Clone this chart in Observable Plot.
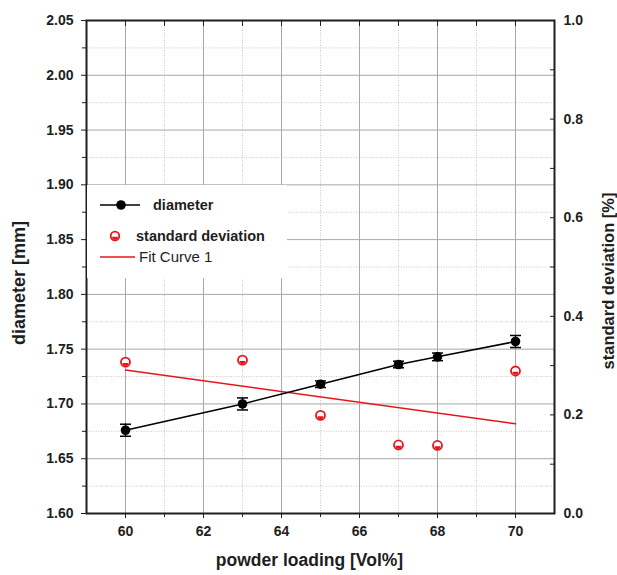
<!DOCTYPE html>
<html>
<head>
<meta charset="utf-8">
<script src="https://cdn.jsdelivr.net/npm/d3@7"></script>
<script src="https://cdn.jsdelivr.net/npm/@observablehq/plot@0.6"></script>
<style>
  html, body { margin: 0; padding: 0; background: #fff; }
  #wrap { position: relative; width: 617px; height: 575px; font-family: "Liberation Sans", Arial, sans-serif; }
  #legend { position: absolute; left: 87px; top: 185px; width: 200px; height: 93px; background: #fff; }
</style>
</head>
<body>
<div id="wrap">
  <div id="chart"></div>
  <div id="legend"></div>
</div>
<script>
// ---- data ----
const loading = [60, 63, 65, 67, 68, 70];
const diameter = [1.676, 1.700, 1.718, 1.736, 1.743, 1.757];
const diameterErr = [0.0055, 0.0055, 0.003, 0.003, 0.0035, 0.0055];
const stdDev = [0.307, 0.311, 0.199, 0.139, 0.138, 0.289];
const fitX = [60, 70];
const fitY = [0.291, 0.182];

// ---- ticks ----
const xMajor = [60, 62, 64, 66, 68, 70];
const xMinor = [59, 61, 63, 65, 67, 69, 71];
const yMajor = [1.60, 1.65, 1.70, 1.75, 1.80, 1.85, 1.90, 1.95, 2.00, 2.05];
const yMinor = [1.625, 1.675, 1.725, 1.775, 1.825, 1.875, 1.925, 1.975, 2.025];
const sdMajor = [0.0, 0.2, 0.4, 0.6, 0.8, 1.0];
const sdMinor = [0.1, 0.3, 0.5, 0.7, 0.9];

// right axis (std dev, 0..1) mapped onto the left scale (1.60..2.05)
const yMin = 1.60, yMax = 2.05;
const sdToY = s => yMin + s * (yMax - yMin);
const yToSd = y => (y - yMin) / (yMax - yMin);

const rows = loading.map((x, i) => ({x, d: diameter[i], e: diameterErr[i], sd: stdDev[i]}));
const fit = fitX.map((x, i) => ({x, sd: fitY[i]}));

const capSymbol = { draw(ctx, size) { const r = Math.sqrt(size / Math.PI); ctx.moveTo(-r, 0); ctx.lineTo(r, 0); } };
const halfSymbol = { draw(ctx, size) { const r = Math.sqrt(size / Math.PI); ctx.moveTo(r, 0); ctx.arc(0, 0, r, 0, Math.PI); ctx.closePath(); } };

const RED = "#e8141b";
const INK = "#1e1e1e";

const chart = Plot.plot({
  width: 617,
  height: 575,
  marginLeft: 86,
  marginRight: 63,
  marginTop: 20,
  marginBottom: 62,
  style: { fontFamily: "'Liberation Sans', Arial, sans-serif", fontSize: "14px", fontWeight: "bold", color: INK, background: "#fff" },
  x: { domain: [59, 71] },
  y: { domain: [yMin, yMax] },
  marks: [
    // grid
    Plot.ruleY(yMinor, { stroke: "#c8c8c8", strokeDasharray: "1,1.5" }),
    Plot.ruleX(xMinor, { stroke: "#c8c8c8", strokeDasharray: "1,1.5" }),
    Plot.ruleY(yMajor, { stroke: "#a8a8a8" }),
    Plot.ruleX(xMajor, { stroke: "#a8a8a8" }),
    // axes
    Plot.axisY(yMajor, { anchor: "left", tickSize: 5, tickPadding: 8, tickFormat: d => d.toFixed(2), label: null, stroke: INK, fill: INK }),
    Plot.axisY(yMinor, { anchor: "left", tickSize: 4, tickFormat: () => "", label: null, stroke: INK }),
    Plot.axisX(xMajor, { anchor: "bottom", tickSize: 5, tickPadding: 8, tickFormat: d => String(d), label: null, stroke: INK, fill: INK }),
    Plot.axisX(xMinor.filter(d => d > 59 && d < 71), { anchor: "bottom", tickSize: 4, tickFormat: () => "", label: null, stroke: INK }),
    Plot.axisX(xMajor.concat(xMinor.filter(d => d > 59 && d < 71)), { anchor: "top", tickSize: -5, tickFormat: () => "", label: null, stroke: INK }),
    Plot.axisY(sdMajor.map(sdToY), { anchor: "right", tickSize: 0, tickPadding: 9, tickFormat: d => yToSd(d).toFixed(1), label: null, fill: INK }),
    Plot.axisY(sdMajor.concat(sdMinor).map(sdToY), { anchor: "right", tickSize: -5, tickFormat: () => "", label: null, stroke: INK }),
    Plot.frame({ stroke: INK, strokeWidth: 2 }),
    // axis titles
    Plot.text(["powder loading [Vol%]"], { frameAnchor: "bottom", textAnchor: "middle", dx: -11, dy: 52, fontSize: 17.5, fontWeight: "bold", fill: INK }),
    Plot.text(["diameter [mm]"], { frameAnchor: "left", textAnchor: "middle", dx: -67, dy: 16, rotate: -90, fontSize: 18, fontWeight: "bold", fill: INK }),
    Plot.text(["standard deviation [%]"], { frameAnchor: "right", textAnchor: "middle", dx: 54, dy: 14, rotate: -90, fontSize: 16.5, fontWeight: "bold", fill: INK }),
    // fit curve
    Plot.line(fit, { x: "x", y: d => sdToY(d.sd), stroke: RED, strokeWidth: 1.5 }),
    // diameter series
    Plot.line(rows, { x: "x", y: "d", stroke: "#000", strokeWidth: 1.6 }),
    Plot.ruleX(rows, { x: "x", y1: d => d.d - d.e, y2: d => d.d + d.e, stroke: "#000", strokeWidth: 1.5 }),
    Plot.dot(rows, { x: "x", y: d => d.d - d.e, symbol: capSymbol, r: 5.5, stroke: "#000", strokeWidth: 1.5 }),
    Plot.dot(rows, { x: "x", y: d => d.d + d.e, symbol: capSymbol, r: 5.5, stroke: "#000", strokeWidth: 1.5 }),
    Plot.dot(rows, { x: "x", y: "d", r: 4.8, fill: "#000" }),
    // standard deviation
    Plot.dot(rows, { x: "x", y: d => sdToY(d.sd), r: 4.5, fill: "#fff", stroke: RED, strokeWidth: 1.8 }),
    Plot.dot(rows, { x: "x", y: d => sdToY(d.sd), r: 3, symbol: halfSymbol, fill: RED, dy: 0.8 })
  ]
});
document.getElementById("chart").appendChild(chart);

// legend
const legend = `
<svg width="200" height="93" xmlns="http://www.w3.org/2000/svg" style="font-family:'Liberation Sans', Arial, sans-serif">
  <line x1="13" y1="20" x2="53" y2="20" stroke="#000" stroke-width="1.6"/>
  <circle cx="34" cy="20" r="4.8" fill="#000"/>
  <text x="66" y="25" font-size="14.5" font-weight="bold" fill="${INK}">diameter</text>
  <circle cx="28" cy="51" r="4.3" fill="#fff" stroke="${RED}" stroke-width="1.8"/>
  <path d="M2.9,51.8 A2.9,2.9 0 0 1 -2.9,51.8 Z" transform="translate(28,0)" fill="${RED}"/>
  <text x="49" y="56" font-size="14.5" font-weight="bold" fill="${INK}">standard deviation</text>
  <line x1="13" y1="72" x2="48" y2="72" stroke="${RED}" stroke-width="1.5"/>
  <text x="52" y="77" font-size="15" fill="${INK}">Fit Curve 1</text>
</svg>`;
document.getElementById("legend").innerHTML = legend;
</script>
</body>
</html>
